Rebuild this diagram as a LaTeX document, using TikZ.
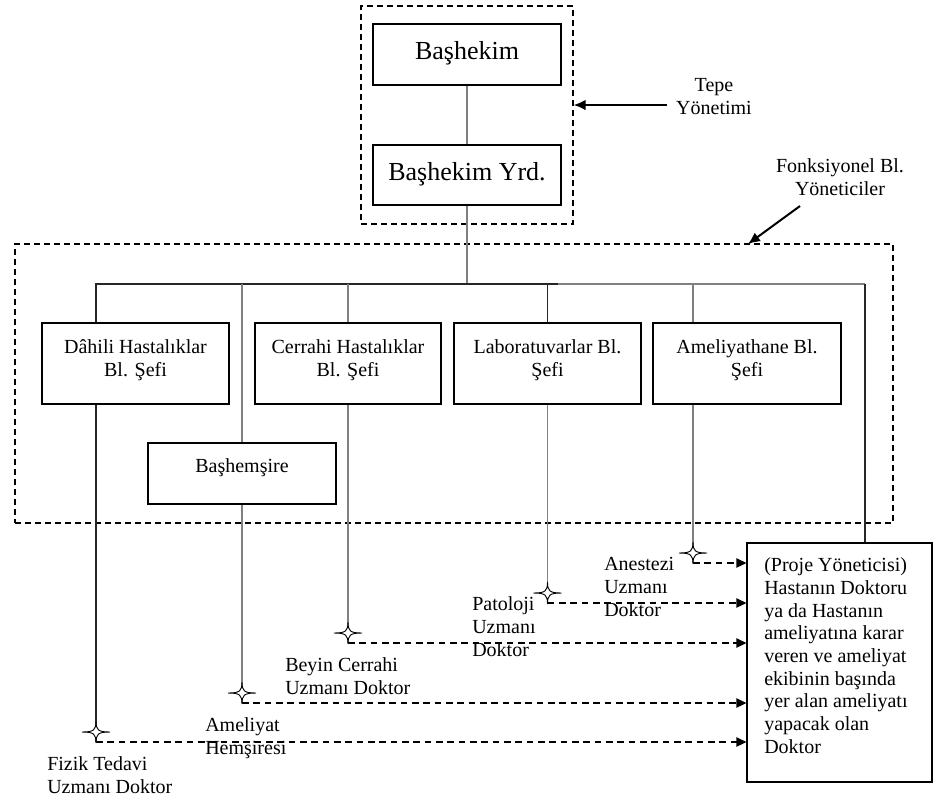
\documentclass[tikz,border=0pt]{standalone}
\usepackage{fontspec}
\setmainfont{Liberation Serif}
\usetikzlibrary{arrows.meta}
\begin{document}
\begin{tikzpicture}[x=0.75pt,y=-0.75pt,
  box/.style={draw, line width=0.9pt, inner sep=0pt},
  dbox/.style={draw, line width=0.9pt, inner sep=0pt, dash pattern=on 4.5pt off 3pt},
  txt/.style={font=\fontsize{15}{17}\selectfont, inner sep=0pt},
  bigtxt/.style={font=\fontsize{19.5}{22}\selectfont, inner sep=0pt},
  blk/.style={draw=black!85, line width=0.9pt},
  gry/.style={draw=black!50, line width=0.9pt},
  dasharrow/.style={draw, line width=1.1pt, dash pattern=on 5pt off 3.5pt,
    -{Triangle[length=7.5pt,width=7pt]}},
  bigarrow/.style={draw, line width=1.5pt, -{Latex[length=9pt,width=8pt]}},
  starmark/.pic={
    \draw[fill=white, line width=0.7pt]
      (-14,0) .. controls (-2,0) and (0,-2) .. (0,-11)
      .. controls (0,-2) and (2,0) .. (14,0)
      .. controls (2,0) and (0,2) .. (0,11)
      .. controls (0,2) and (-2,0) .. (-14,0) -- cycle;
  }]
\useasboundingbox (0,0) rectangle (935,801);

% management frames
\node[dbox, minimum width=159pt, minimum height=163.5pt] (tp) at (467,115) {};
\node[dbox, minimum width=658.5pt, minimum height=209.25pt] (fb) at (454,383.5) {};

% top management boxes
\node[box, minimum width=141pt, minimum height=45.75pt] (bh) at (467,54.5) {};
\node[bigtxt, anchor=base] (bht) at (467,59) {Başhekim};
\node[box, minimum width=141pt, minimum height=45pt] (yrd) at (467,175) {};
\node[bigtxt, anchor=base] (yrdt) at (467,180) {Başhekim Yrd.};

% department heads (multi-line texts are placed by their last baseline)
\node[box, minimum width=140.25pt, minimum height=60.75pt] (dh) at (135.5,363.5) {};
\node[txt, anchor=base, align=center] (dht) at (135.5,376) {Dâhili Hastalıklar\\Bl. Şefi};
\node[box, minimum width=139.5pt, minimum height=60.75pt] (ch) at (348,363.5) {};
\node[txt, anchor=base, align=center] (cht) at (348,376) {Cerrahi Hastalıklar\\Bl. Şefi};
\node[box, minimum width=140.25pt, minimum height=60.75pt] (lb) at (547.5,363.5) {};
\node[txt, anchor=base, align=center] (lbt) at (547.5,376) {Laboratuvarlar Bl.\\Şefi};
\node[box, minimum width=141pt, minimum height=60.75pt] (am) at (747,363.5) {};
\node[txt, anchor=base, align=center] (amt) at (747,376) {Ameliyathane Bl.\\Şefi};
\node[box, minimum width=141pt, minimum height=45.75pt] (hs) at (242,473.5) {};
\node[txt, anchor=base] (hst) at (242,472) {Başhemşire};

% project manager
\node[box, minimum width=138.75pt, minimum height=179.25pt] (pj) at (839.5,662.5) {};
\node[txt, anchor=base west, align=left] (pjt) at (764,753)
  {(Proje Yöneticisi)\\Hastanın Doktoru\\ya da Hastanın\\ameliyatına karar\\veren ve ameliyat\\ekibinin başında\\yer alan ameliyatı\\yapacak olan\\Doktor};

% annotations
\node[txt, anchor=base, align=center] (tpt) at (714,114) {Tepe\\Yönetimi};
\node[txt, anchor=base, align=center] (fbt) at (840,195) {Fonksiyonel Bl.\\Yöneticiler};
\coordinate (ta) at (667,105);
\draw[bigarrow] (ta) -- (ta -| tp.east);
\coordinate (fa) at (800,206);
\coordinate (fa2) at (748,244);
\draw[bigarrow] (fa) -- (fa2);

% hierarchy lines
\coordinate (bL) at (96,284);
\coordinate (bM) at (558,284);
\coordinate (bR) at (865,284);
\coordinate (x5) at (693,284);
\draw[gry] (bh.south) -- (yrd.north);
\draw[gry] (yrd.south) -- (yrd.south |- bL);
\draw[blk] (bL |- dh.north) -- (bL) -- (bM);
\draw[gry] (bM) -- (bR);
\draw[blk] (bR) -- (bR |- pj.north);
\draw[gry] (hs.north) -- (hs.north |- bL);
\draw[gry] (ch.north) -- (ch.north |- bL);
\draw[blk] (lb.north) -- (lb.north |- bL);
\draw[gry] (x5) -- (x5 |- am.north);

% specialists
\coordinate (e1) at (96,742);
\coordinate (e2) at (242,703);
\coordinate (e3) at (348,643);
\coordinate (e4) at (547.5,603);
\coordinate (e5) at (693,563);
\draw[blk] (e1 |- dh.south) -- (e1);
\draw[gry] (hs.south) -- (e2);
\draw[gry] (ch.south) -- (e3);
\draw[gry] (lb.south) -- (e4);
\draw[gry] (e5 |- am.south) -- (e5);
\foreach \e in {e1,e2,e3,e4,e5}{
  \draw[dasharrow] (\e) -- (\e -| pj.west);
  \pic[yshift=7.5pt] at (\e) {starmark};
}

\node[txt, anchor=base west, align=left] (l1) at (47,793) {Fizik Tedavi\\Uzmanı Doktor};
\node[txt, anchor=base west, align=left] (l2) at (205,754) {Ameliyat\\Hemşiresi};
\node[txt, anchor=base west, align=left] (l3) at (285,694) {Beyin Cerrahi\\Uzmanı Doktor};
\node[txt, anchor=base west, align=left] (l4) at (472,656) {Patoloji\\Uzmanı\\Doktor};
\node[txt, anchor=base west, align=left] (l5) at (604,616) {Anestezi\\Uzmanı\\Doktor};
\end{tikzpicture}
\end{document}
